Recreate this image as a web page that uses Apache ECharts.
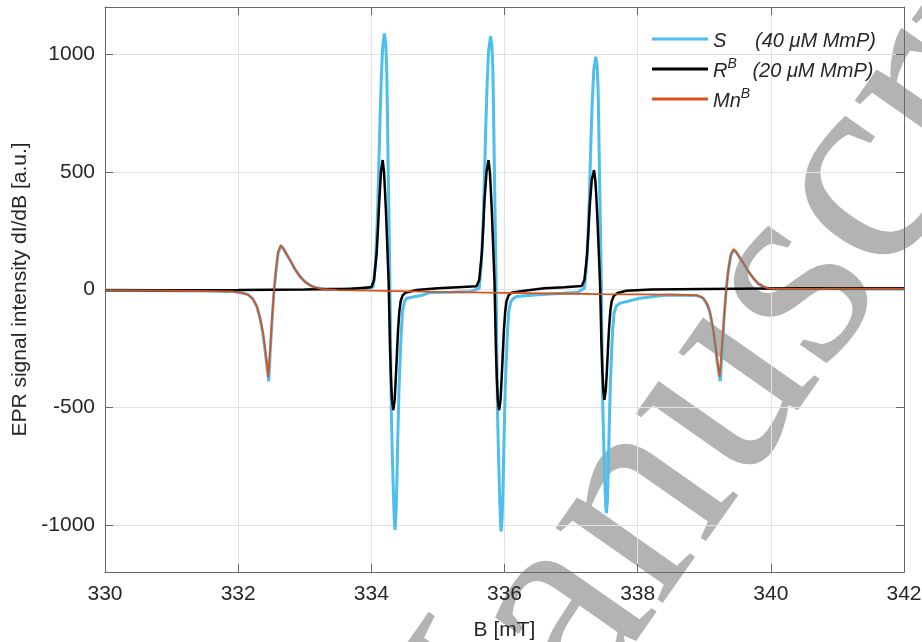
<!DOCTYPE html>
<html>
<head>
<meta charset="utf-8">
<script src="https://cdn.jsdelivr.net/npm/echarts@6/dist/echarts.min.js"></script>
<style>html,body{margin:0;padding:0;background:#fff}#c{width:922px;height:642px}</style>
</head>
<body>
<div id="c"></div>
<script>
// Series names
const seriesNames = ['S', 'R', 'Mn'];
// Tick values
const xTicks = [330, 332, 334, 336, 338, 340, 342];
const yTicks = [-1000, -500, 0, 500, 1000];

// S (40 µM MmP) : [B (mT), dI/dB]
const sData = [
  [330.0,-2],[330.5,-3],[331.0,-5],[331.5,-6],[331.9,-8],[332.05,-14],[332.15,-22],[332.22,-40],
  [332.28,-72],[332.33,-125],[332.37,-185],[332.40,-250],[332.43,-320],[332.46,-390],[332.48,-270],
  [332.51,-125],[332.54,0],[332.57,85],[332.60,155],[332.64,185],[332.68,172],[332.73,148],
  [332.78,124],[332.85,88],[332.93,55],[333.0,34],[333.08,18],[333.15,9],[333.3,2],[333.5,0],
  [333.7,3],[333.9,3],[334.03,12],[334.06,100],[334.09,295],[334.11,500],[334.13,720],[334.15,900],
  [334.17,1030],[334.195,1088],[334.215,1050],[334.23,950],[334.24,780],[334.25,578],[334.265,300],
  [334.28,12],[334.29,-260],[334.30,-526],[334.315,-700],[334.33,-850],[334.345,-980],[334.355,-1021],
  [334.37,-960],[334.385,-800],[334.40,-600],[334.415,-430],[334.43,-313],[334.45,-180],[334.47,-87],
  [334.50,-50],[334.53,-37],[334.78,-23],[334.88,-13],[335.2,-12],[335.5,-8],[335.62,5],
  [335.65,100],[335.68,290],[335.70,490],[335.72,700],[335.74,880],[335.76,1010],[335.79,1076],
  [335.81,1040],[335.825,940],[335.835,770],[335.845,570],[335.86,290],[335.875,10],[335.885,-260],
  [335.895,-520],[335.91,-700],[335.925,-860],[335.94,-990],[335.95,-1028],[335.965,-970],
  [335.98,-810],[335.995,-610],[336.01,-430],[336.025,-310],[336.045,-180],[336.065,-90],
  [336.095,-52],[336.125,-40],[336.18,-30],[336.5,-22],[336.88,-16],[337.1,-12],[337.20,5],
  [337.23,95],[337.26,270],[337.28,450],[337.30,650],[337.32,810],[337.34,930],[337.37,989],
  [337.39,955],[337.405,860],[337.415,710],[337.425,520],[337.44,270],[337.455,10],[337.465,-240],
  [337.475,-480],[337.49,-650],[337.505,-800],[337.52,-920],[337.53,-950],[337.545,-900],
  [337.56,-750],[337.575,-560],[337.59,-400],[337.605,-290],[337.625,-170],[337.645,-100],
  [337.68,-70],[337.73,-59],[338.03,-37],[338.43,-23],[338.88,-25],[338.98,-36],[339.04,-62],
  [339.08,-92],[339.11,-135],[339.14,-185],[339.17,-250],[339.20,-320],[339.24,-390],[339.27,-260],
  [339.30,-110],[339.33,0],[339.36,78],[339.40,145],[339.44,168],[339.48,158],[339.53,136],
  [339.59,110],[339.66,77],[339.74,47],[339.81,25],[339.89,12],[339.96,5],[340.04,2],[340.5,3],
  [341.0,3],[341.5,2],[342.0,2]
];

// R^B (20 µM MmP)
const rData = [
  [330,-3],[331,-3],[332,-2],[333,0],[333.7,3],[334.0,10],[334.04,40],[334.08,154],[334.10,260],
  [334.12,380],[334.145,500],[334.17,550],[334.19,500],[334.205,420],[334.22,330],[334.24,180],
  [334.26,30],[334.27,-100],[334.28,-243],[334.295,-380],[334.31,-470],[334.33,-512],[334.35,-470],
  [334.365,-390],[334.38,-300],[334.40,-180],[334.42,-95],[334.44,-50],[334.47,-25],[334.51,-14],
  [334.68,-2],[335.0,5],[335.3,10],[335.58,14],[335.62,40],[335.66,154],[335.68,260],[335.70,380],
  [335.73,500],[335.76,550],[335.78,500],[335.795,420],[335.81,330],[335.83,180],[335.85,30],
  [335.86,-100],[335.87,-243],[335.885,-380],[335.90,-470],[335.92,-512],[335.94,-470],
  [335.955,-390],[335.97,-300],[335.99,-180],[336.01,-95],[336.03,-50],[336.06,-25],[336.10,-14],
  [336.3,-5],[336.6,5],[336.9,10],[337.16,15],[337.20,40],[337.24,145],[337.26,245],[337.28,355],
  [337.31,465],[337.345,507],[337.365,460],[337.38,390],[337.395,305],[337.415,165],[337.435,25],
  [337.445,-90],[337.455,-220],[337.47,-350],[337.485,-430],[337.50,-469],[337.52,-430],
  [337.535,-360],[337.55,-275],[337.57,-165],[337.59,-90],[337.61,-50],[337.64,-28],[337.70,-15],
  [337.83,-5],[338.2,0],[339.0,2],[339.5,3],[340.5,5],[342,5]
];

// Mn^B
const mnData = [
  [330,-3],[331,-5],[331.9,-8],[332.05,-14],[332.15,-22],[332.22,-40],[332.28,-70],[332.33,-120],
  [332.37,-180],[332.40,-240],[332.43,-310],[332.45,-372],[332.48,-260],[332.51,-120],[332.54,0],
  [332.57,90],[332.60,160],[332.64,189],[332.68,175],[332.73,150],[332.78,125],[332.85,88],
  [332.93,54],[333.0,33],[333.08,18],[333.15,9],[333.25,3],[333.5,-3],[334.0,-5],[335.0,-10],
  [336.0,-14],[337.0,-18],[337.43,-20],[338.0,-21],[338.5,-22],[338.88,-24],[338.98,-35],
  [339.04,-59],[339.08,-90],[339.11,-130],[339.14,-180],[339.17,-243],[339.20,-310],[339.23,-370],
  [339.26,-260],[339.30,-110],[339.33,0],[339.36,80],[339.40,150],[339.44,171],[339.48,160],
  [339.53,138],[339.59,111],[339.66,78],[339.74,47],[339.81,25],[339.89,12],[339.96,5],[340.04,3],
  [341,4],[342,4]
];

const FONT = 'Liberation Sans';
const AX = '#666666';
const TXT = '#262626';
const chart = echarts.init(document.getElementById('c'), null, {renderer: 'canvas'});

const legendRich = {
  it: {fontFamily: FONT, fontStyle: 'italic', fontSize: 20, color: TXT, verticalAlign: 'bottom', lineHeight: 24},
  s1: {fontFamily: FONT, fontStyle: 'italic', fontSize: 20, color: TXT, width: 42, verticalAlign: 'bottom', lineHeight: 24},
  sup: {fontFamily: FONT, fontStyle: 'italic', fontSize: 14, color: TXT, verticalAlign: 'top', lineHeight: 14},
  supw: {fontFamily: FONT, fontStyle: 'italic', fontSize: 14, color: TXT, width: 25, verticalAlign: 'top', lineHeight: 14}
};

chart.setOption({
  animation: false,
  backgroundColor: '#ffffff',
  grid: {left: 105, right: 18, top: 7, bottom: 70, containLabel: false, outerBoundsMode: 'none'},
  graphic: [{
    type: 'text', silent: true, z: -10, zlevel: 0,
    x: 752, y: 345, rotation: 55 * Math.PI / 180,
    style: {text: 'Manuscript', fill: '#b3b3b3', fontFamily: 'Liberation Serif', fontSize: 285,
            textAlign: 'center', textVerticalAlign: 'middle'}
  }],
  legend: {
    orient: 'vertical', left: 647, top: 26, itemWidth: 56, itemHeight: 3, itemGap: 6, padding: 5,
    icon: 'rect',
    data: seriesNames,
    formatter: function (n) {
      if (n === 'S') return '{s1|S}{it|(40 μM MmP)}';
      if (n === 'R') return '{it|R}{supw|B}{it|(20 μM MmP)}';
      return '{it|Mn}{sup|B}';
    },
    textStyle: {rich: legendRich, padding: [0, 0, 0, 0]}
  },
  xAxis: [{
    type: 'value', min: 330, max: 342, interval: 2, name: 'B [mT]', nameLocation: 'middle', nameGap: 48,
    nameTextStyle: {fontFamily: FONT, fontSize: 21, color: TXT},
    axisLine: {show: true, onZero: false, lineStyle: {color: AX, width: 1}},
    axisTick: {show: true, inside: true, length: 8, lineStyle: {color: AX}},
    axisLabel: {fontFamily: FONT, fontSize: 21, color: TXT, margin: 12, showMinLabel: true, showMaxLabel: true,
                formatter: function (v) { return String(v); }},
    splitLine: {show: true, lineStyle: {color: '#e2e2e2', width: 1}}
  }, {
    type: 'value', min: 330, max: 342, interval: 2, position: 'top',
    axisLine: {show: true, onZero: false, lineStyle: {color: AX, width: 1}},
    axisTick: {show: true, inside: true, length: 8, lineStyle: {color: AX}},
    axisLabel: {show: false}, splitLine: {show: false}
  }],
  yAxis: [{
    type: 'value', min: -1200, max: 1200,
    name: 'EPR signal intensity dI/dB [a.u.]', nameLocation: 'middle', nameGap: 66,
    nameTextStyle: {fontFamily: FONT, fontSize: 21, color: TXT},
    axisLine: {show: true, onZero: false, lineStyle: {color: AX, width: 1}},
    axisTick: {show: true, inside: true, length: 8, lineStyle: {color: AX}, customValues: yTicks},
    axisLabel: {fontFamily: FONT, fontSize: 21, color: TXT, margin: 10, customValues: yTicks,
                formatter: function (v) { return String(v); }},
    splitLine: {show: true, lineStyle: {color: '#e2e2e2', width: 1}}
  }, {
    type: 'value', min: -1200, max: 1200, position: 'right',
    axisLine: {show: true, onZero: false, lineStyle: {color: AX, width: 1}},
    axisTick: {show: true, inside: true, length: 8, lineStyle: {color: AX}, customValues: yTicks},
    axisLabel: {show: false}, splitLine: {show: false}
  }],
  series: [{
    name: 'S', type: 'line', data: sData, symbol: 'none', xAxisIndex: 0, yAxisIndex: 0,
    lineStyle: {color: '#4DBEEE', width: 3}, itemStyle: {color: '#4DBEEE'}, z: 2
  }, {
    name: 'R', type: 'line', data: rData, symbol: 'none',
    lineStyle: {color: '#000000', width: 2.5}, itemStyle: {color: '#000000'}, z: 3
  }, {
    name: 'Mn', type: 'line', data: mnData, symbol: 'none',
    lineStyle: {color: '#D95319', width: 1.8}, itemStyle: {color: '#D95319'}, z: 4
  }]
});
</script>
</body>
</html>
